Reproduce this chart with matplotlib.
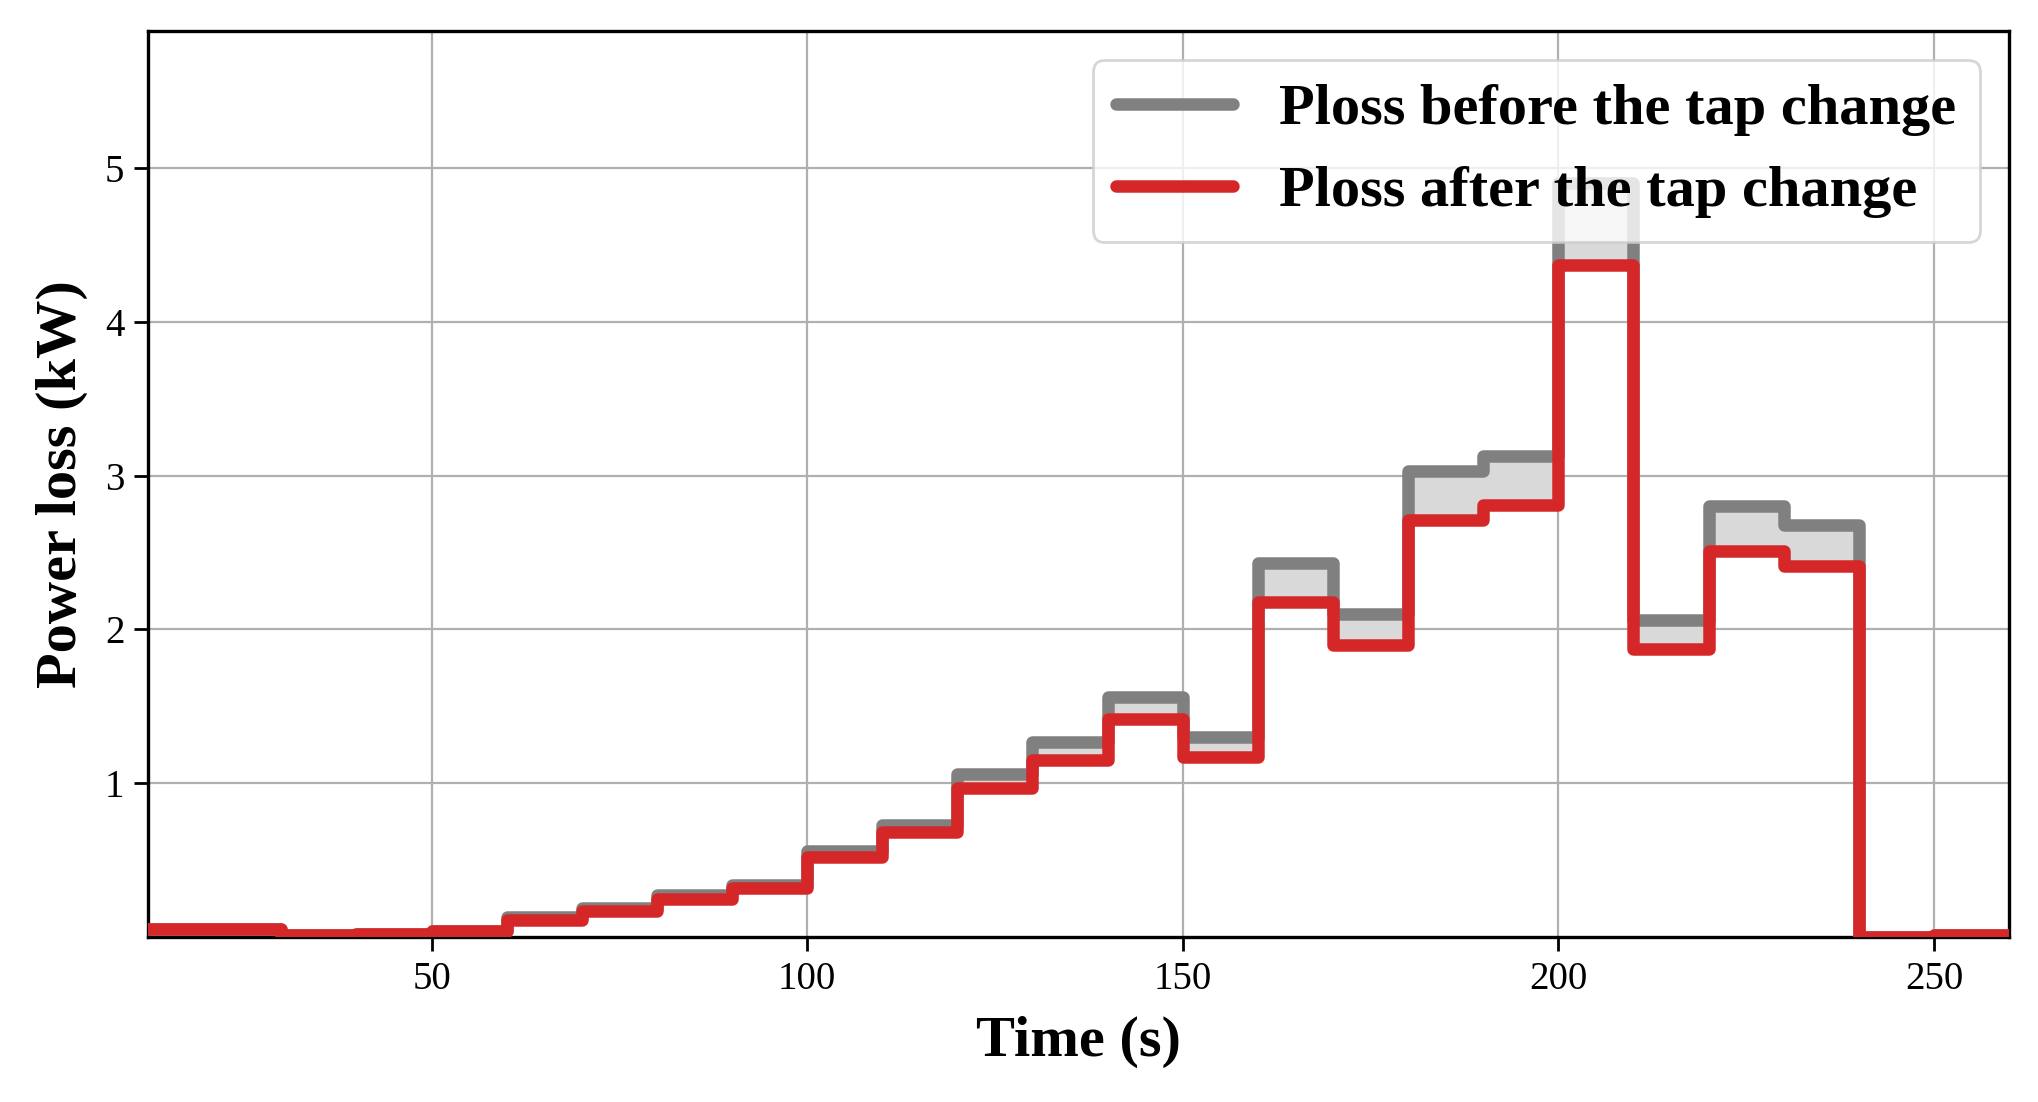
import matplotlib
matplotlib.use("Agg")
import matplotlib.pyplot as plt
import numpy as np

# Step start times (s) and power loss (kW) per 10 s interval
time_s = [0, 30, 40, 50, 60, 70, 80, 90, 100, 110, 120, 130, 140, 150, 160,
          170, 180, 190, 200, 210, 220, 230, 240, 250, 260]
ploss_before = [0.05, 0.01, 0.02, 0.04, 0.13, 0.19, 0.27, 0.34, 0.56, 0.73, 1.06,
                1.27, 1.56, 1.30, 2.43, 2.10, 3.03, 3.13, 4.90, 2.06, 2.80, 2.68,
                0.00, 0.01, 0.01]
ploss_after = [0.05, 0.01, 0.02, 0.04, 0.11, 0.17, 0.25, 0.32, 0.52, 0.68, 0.97,
               1.15, 1.42, 1.17, 2.18, 1.90, 2.71, 2.81, 4.37, 1.87, 2.51, 2.41,
               0.00, 0.01, 0.01]
xticks = [50, 100, 150, 200, 250]
yticks = [1, 2, 3, 4, 5]

plt.rcParams['font.family'] = ['Liberation Serif', 'DejaVu Serif']

fig = plt.figure(figsize=(10.19, 5.51), dpi=200)
ax = fig.add_axes([0.0726, 0.1497, 0.9132, 0.8222])

ax.fill_between(time_s, ploss_before, ploss_after, step='post',
                color='#d9d9d9', linewidth=0, zorder=2)
ax.plot(time_s, ploss_before, drawstyle='steps-post', color='#808080', lw=4.5,
        solid_joinstyle='round', solid_capstyle='round', zorder=3,
        label='Ploss before the tap change')
ax.plot(time_s, ploss_after, drawstyle='steps-post', color='#d62728', lw=4.5,
        solid_joinstyle='round', solid_capstyle='round', zorder=4,
        label='Ploss after the tap change')

ax.set_xlim(12.25, 260)
ax.set_ylim(0, 5.89)
ax.set_xticks(xticks)
ax.set_yticks(yticks)
ax.tick_params(labelsize=14, width=1.0, length=5)
ax.grid(True, color='#b0b0b0', lw=0.8)
ax.set_axisbelow(True)
for s in ax.spines.values():
    s.set_linewidth(1.2)

ax.set_xlabel('Time (s)', fontsize=21, fontweight='bold', labelpad=6.5)
ax.set_ylabel('Power loss (kW)', fontsize=21, fontweight='bold', labelpad=6)

leg = ax.legend(loc='upper right', prop={'size': 21, 'weight': 'bold'})
leg.set_zorder(10)

fig.savefig('out.png', dpi=200)
